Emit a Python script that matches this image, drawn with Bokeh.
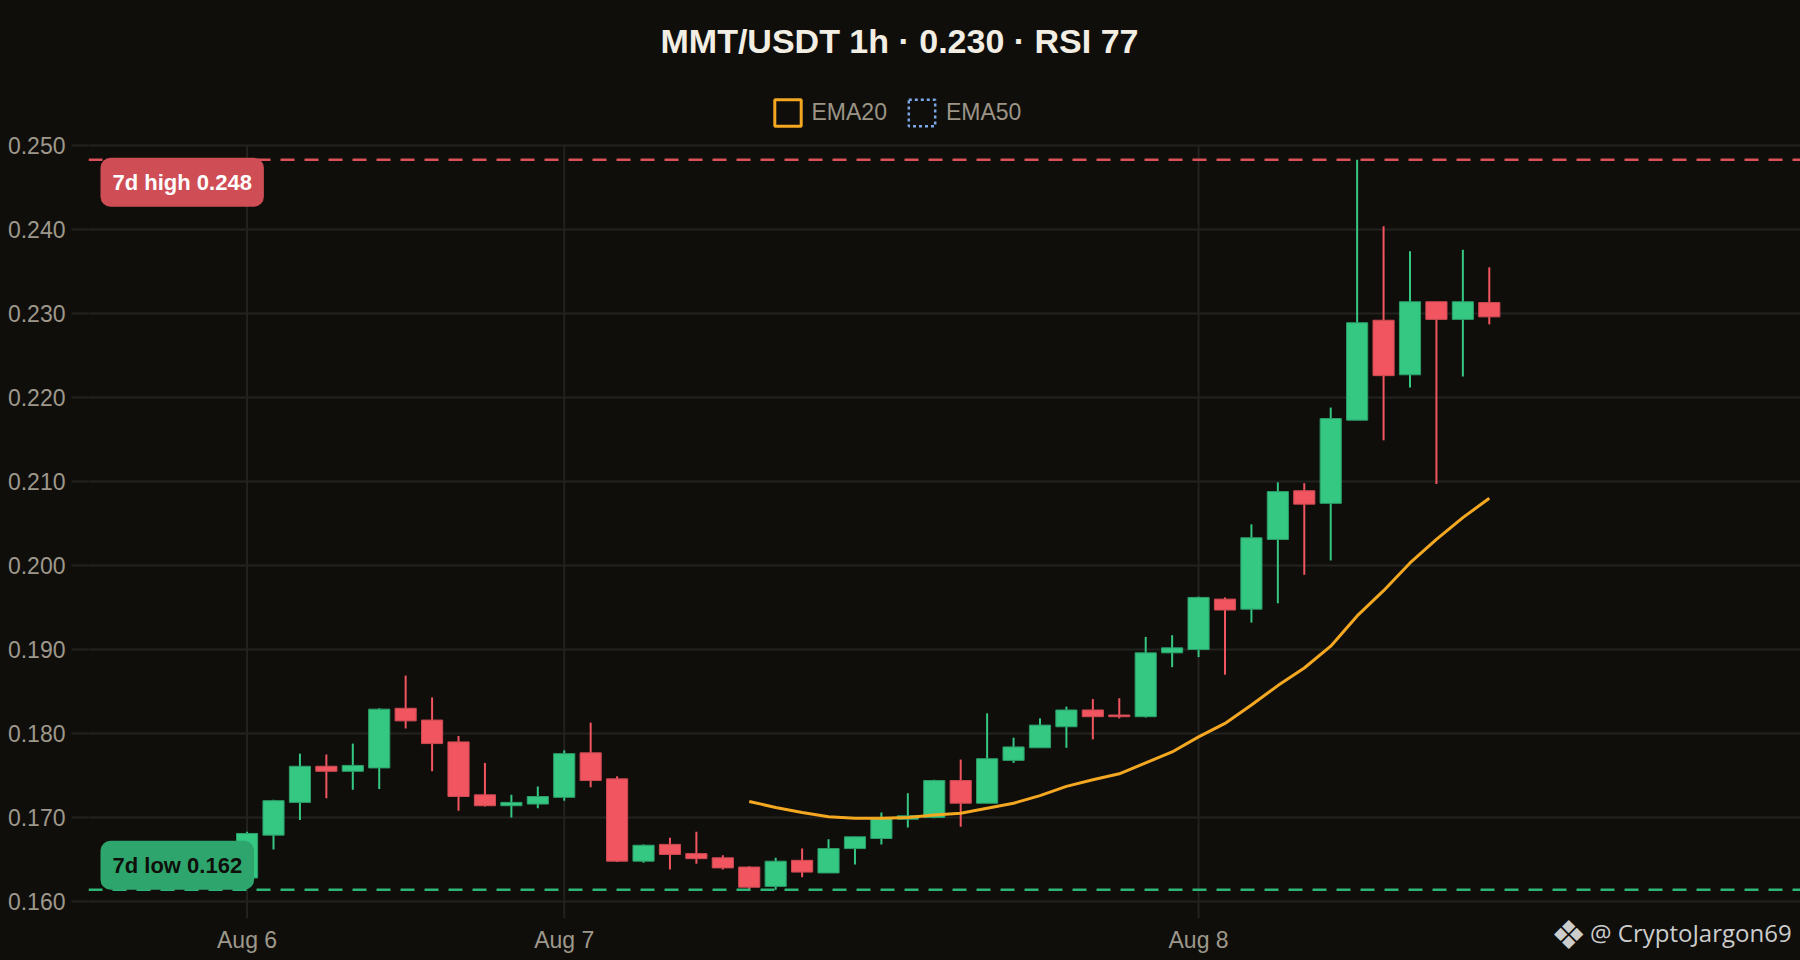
from bokeh.plotting import figure
from bokeh.models import (Range1d, FixedTicker, Span, Label, Legend, LegendItem,
                          ColumnDataSource, PrintfTickFormatter, LinearAxis)
from bokeh.embed import file_html
from bokeh.resources import INLINE

# ---------------- data ----------------
hours = list(range(48))
opens = [0.1628, 0.1679, 0.1718, 0.1761, 0.1755, 0.1759, 0.1830, 0.1816, 0.1790, 0.1727,
         0.1714, 0.1716, 0.1724, 0.1777, 0.1746, 0.1648, 0.1668, 0.1657, 0.1652, 0.1641,
         0.1618, 0.1649, 0.1634, 0.1663, 0.1675, 0.1698, 0.1700, 0.1744, 0.1717, 0.1768,
         0.1783, 0.1808, 0.1828, 0.1822, 0.1820, 0.1896, 0.1900, 0.1960, 0.1948, 0.2031,
         0.2089, 0.2074, 0.2173, 0.2292, 0.2227, 0.2314, 0.2293, 0.2313]
highs = [0.1683, 0.1721, 0.1776, 0.1775, 0.1788, 0.1830, 0.1869, 0.1843, 0.1797, 0.1765,
         0.1727, 0.1737, 0.1780, 0.1813, 0.1749, 0.1668, 0.1676, 0.1683, 0.1655, 0.1642,
         0.1652, 0.1663, 0.1674, 0.1677, 0.1706, 0.1729, 0.1745, 0.1769, 0.1824, 0.1795,
         0.1818, 0.1832, 0.1841, 0.1842, 0.1915, 0.1917, 0.1963, 0.1962, 0.2049, 0.2099,
         0.2098, 0.2188, 0.2483, 0.2404, 0.2374, 0.2314, 0.2376, 0.2355]
lows = [0.1624, 0.1662, 0.1697, 0.1723, 0.1733, 0.1734, 0.1806, 0.1755, 0.1708, 0.1713,
        0.1700, 0.1711, 0.1720, 0.1736, 0.1647, 0.1646, 0.1638, 0.1645, 0.1638, 0.1614,
        0.1614, 0.1629, 0.1634, 0.1644, 0.1668, 0.1688, 0.1699, 0.1689, 0.1717, 0.1765,
        0.1783, 0.1783, 0.1793, 0.1818, 0.1819, 0.1879, 0.1891, 0.1870, 0.1932, 0.1955,
        0.1989, 0.2006, 0.2173, 0.2149, 0.2212, 0.2097, 0.2225, 0.2287]
closes = [0.1681, 0.1720, 0.1761, 0.1755, 0.1762, 0.1829, 0.1815, 0.1788, 0.1725, 0.1714,
          0.1718, 0.1725, 0.1776, 0.1744, 0.1648, 0.1667, 0.1656, 0.1651, 0.1640, 0.1617,
          0.1648, 0.1635, 0.1663, 0.1677, 0.1699, 0.1702, 0.1744, 0.1717, 0.1770, 0.1784,
          0.1810, 0.1828, 0.1820, 0.1820, 0.1896, 0.1902, 0.1962, 0.1947, 0.2033, 0.2088,
          0.2073, 0.2175, 0.2289, 0.2226, 0.2314, 0.2293, 0.2314, 0.2296]
ema20 = [None] * 19 + [0.1719, 0.1712, 0.1706, 0.1701, 0.1699, 0.1699, 0.1700, 0.1703, 0.1705,
                       0.1711, 0.1717, 0.1726, 0.1737, 0.1745, 0.1752, 0.1765, 0.1778, 0.1796,
                       0.1812, 0.1834, 0.1857, 0.1878, 0.1904, 0.1940, 0.1970, 0.2003, 0.2031,
                       0.2057, 0.2080]
x_tick_positions = [0, 12, 36]
x_tick_labels = ["Aug 6", "Aug 7", "Aug 8"]
y_ticks = [0.160, 0.170, 0.180, 0.190, 0.200, 0.210, 0.220, 0.230, 0.240, 0.250]
high_7d = 0.2483
low_7d = 0.1614
high_label = "7d high 0.248"
low_label = "7d low 0.162"
title_text = "MMT/USDT 1h · 0.230 · RSI 77"
legend_labels = ["EMA20", "EMA50"]
watermark = "@ CryptoJargon69"
watermark_icon = "\u2756"
watermark_pos = 54.625
watermark_icon_pos = 50

# ---------------- style ----------------
BG = "#0f0e0b"
GRID = "#23221f"
GREEN = "#35c883"
GREEN_EDGE = "#2c9e69"
RED = "#f05560"
RED_EDGE = "#cf4a53"
ORANGE = "#f4a821"
BLUE = "#7ba7e6"
AXIS_TXT = "#9e988b"
FONT = "Liberation Sans"

W, H = 1800, 960
FL, FB = 88, 918                    # frame left / bottom in px (frame top = canvas top)
GRID_TOP_PX = 145                   # pixel row of the 0.250 grid line
PX_PER_BAR = 26.43
PX_PER_UNIT = 8400.0
X0 = -6.0
X1 = X0 + (W - FL) / PX_PER_BAR
Y_TOP_TICK = y_ticks[-1]
Y1 = Y_TOP_TICK + GRID_TOP_PX / PX_PER_UNIT
Y0 = Y_TOP_TICK - (FB - GRID_TOP_PX) / PX_PER_UNIT


def data_x(px):
    return X0 + (px - FL) / PX_PER_BAR


def data_y(py):
    return Y1 - py / PX_PER_UNIT


p = figure(width=W, height=H, x_range=Range1d(X0, X1), y_range=Range1d(Y0, Y1),
           output_backend="svg", toolbar_location=None, title_location=None,
           min_border_left=FL, min_border_right=0, min_border_top=0, min_border_bottom=H - FB,
           background_fill_color=BG, border_fill_color=BG)
p.outline_line_color = None

# axes
p.yaxis.ticker = FixedTicker(ticks=y_ticks)
p.yaxis.formatter = PrintfTickFormatter(format="%.3f")
p.yaxis.axis_line_color = None
p.yaxis.major_tick_line_color = GRID
p.yaxis.major_tick_line_width = 2
p.yaxis.major_tick_out = 17
p.yaxis.major_tick_in = 0
p.yaxis.minor_tick_line_color = None
p.yaxis.major_label_standoff = 6
p.yaxis.major_label_text_font = FONT
p.yaxis.major_label_text_font_size = "23px"
p.yaxis.major_label_text_color = AXIS_TXT

xax = p.below[0]
xax.ticker = FixedTicker(ticks=x_tick_positions)
xax.major_label_overrides = {t: l for t, l in zip(x_tick_positions, x_tick_labels)}
xax.axis_line_color = None
xax.major_tick_line_color = None
xax.major_tick_out = 0
xax.major_tick_in = 0
xax.minor_tick_line_color = None
xax.major_label_standoff = 8
xax.major_label_text_font = FONT
xax.major_label_text_font_size = "23px"
xax.major_label_text_color = AXIS_TXT

p.xgrid.grid_line_color = None
p.ygrid.grid_line_color = GRID
p.ygrid.grid_line_width = 2

# vertical grid lines at the date ticks, limited to the price area
p.segment(x0=x_tick_positions, y0=[Y0] * len(x_tick_positions),
          x1=x_tick_positions, y1=[Y_TOP_TICK] * len(x_tick_positions),
          line_color=GRID, line_width=2)

# watermark: extra bottom axes that share the row of the date labels
wm_axis = LinearAxis(ticker=FixedTicker(ticks=[watermark_pos]),
                     major_label_overrides={watermark_pos: watermark},
                     axis_line_color=None, major_tick_line_color=None,
                     minor_tick_line_color=None, major_tick_out=0, major_tick_in=0,
                     major_label_standoff=-40, major_label_text_font="Open Sans",
                     major_label_text_font_size="24px", major_label_text_color="#cccccc")
p.add_layout(wm_axis, "below")
icon_axis = LinearAxis(ticker=FixedTicker(ticks=[watermark_icon_pos]),
                       major_label_overrides={watermark_icon_pos: watermark_icon},
                       axis_line_color=None, major_tick_line_color=None,
                       minor_tick_line_color=None, major_tick_out=0, major_tick_in=0,
                       major_label_standoff=-44, major_label_text_font="DejaVu Sans",
                       major_label_text_font_size="40px", major_label_text_color="#cccccc")
p.add_layout(icon_axis, "below")

# candles
inc = [c >= o for o, c in zip(opens, closes)]
src = ColumnDataSource(dict(
    x=hours,
    top=[max(o, c) for o, c in zip(opens, closes)],
    bottom=[min(o, c) for o, c in zip(opens, closes)],
    high=highs, low=lows,
    color=[GREEN if i else RED for i in inc],
    edge=[GREEN_EDGE if i else RED_EDGE for i in inc],
))
p.segment(x0="x", y0="low", x1="x", y1="high", line_color="color", line_width=2, source=src)
p.vbar(x="x", width=0.8, top="top", bottom="bottom", fill_color="color",
       line_color="edge", line_width=1, source=src)

# EMA20
ema_vals = [float("nan") if v is None else v for v in ema20]
p.line(hours, ema_vals, line_color=ORANGE, line_width=3)

# 7d high / low lines
p.add_layout(Span(location=high_7d, dimension="width", line_color="#dc5159",
                  line_dash="14 10", line_width=2.5))
p.add_layout(Span(location=low_7d, dimension="width", line_color="#2fb577",
                  line_dash="14 10", line_width=2.5))

p.add_layout(Label(x=data_x(100), y=high_7d, y_offset=2, anchor="top_left", text=high_label,
                   text_font=FONT, text_font_style="bold", text_font_size="22px",
                   text_color="#ffffff", background_fill_color="#cf4e55",
                   padding=12, border_radius=10))
p.add_layout(Label(x=data_x(100), y=low_7d, y_offset=0, anchor="bottom_left", text=low_label,
                   text_font=FONT, text_font_style="bold", text_font_size="22px",
                   text_color="#0f0e0b", background_fill_color="#2ea56c",
                   padding=12, border_radius=10))

# title
p.add_layout(Label(x=data_x(899), y=data_y(40), text=title_text, text_align="center",
                   text_baseline="middle", text_font=FONT, text_font_style="bold",
                   text_font_size="34px", text_color="#f3eee3"))

# legend with square outline markers (proxy glyphs kept outside the visible range)
r20 = p.rect(x=[X0 - 100], y=[Y0], width=1, height=0.001, fill_color=None,
             line_color=ORANGE, line_width=3)
r50 = p.rect(x=[X0 - 100], y=[Y0], width=1, height=0.001, fill_color=None,
             line_color=BLUE, line_width=2.5, line_dash="3 3")
legend = Legend(items=[LegendItem(label=legend_labels[0], renderers=[r20]),
                       LegendItem(label=legend_labels[1], renderers=[r50])],
                orientation="horizontal", location=(770.5 - FL, FB - 96 - 33),
                glyph_width=33, glyph_height=33, spacing=18, label_standoff=8,
                padding=0, margin=0, background_fill_alpha=0, border_line_alpha=0,
                label_text_font=FONT, label_text_font_size="23px",
                label_text_color="#9b9486", label_text_baseline="middle")
p.add_layout(legend)

html = file_html(p, INLINE, title="MMT/USDT 1h")
html = html.replace("</head>",
                    "<style>html,body{margin:0;padding:0;overflow:hidden;background:#0f0e0b}</style></head>", 1)
open("out.html", "w").write(html)
